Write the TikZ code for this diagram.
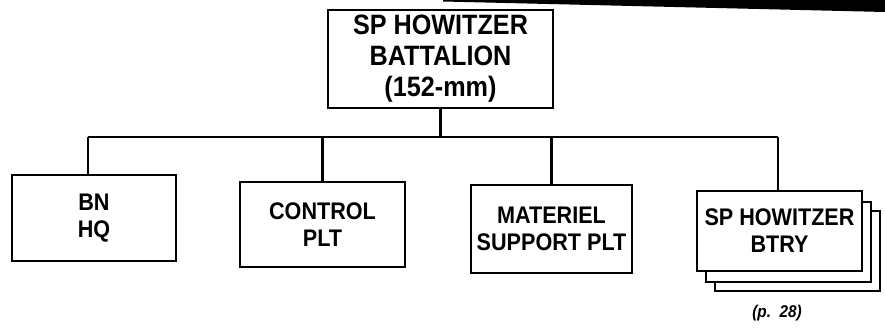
\documentclass[tikz,border=0pt]{standalone}
\usepackage{fontspec}
\setmainfont{Liberation Sans}
\newfontfamily\narrowsans[FakeStretch=0.9]{Liberation Sans}
\begin{document}
\begin{tikzpicture}[x=1pt,y=-1pt,
  unitbox/.style={draw=black, line width=2.4pt, fill=white, align=center, inner sep=0pt,
    font=\narrowsans\fontsize{24}{27}\selectfont\bfseries},
  topbox/.style={unitbox, font=\narrowsans\fontsize{28}{31}\selectfont\bfseries},
  link/.style={draw=black, line width=2.2pt}]
\useasboundingbox (0,0) rectangle (885,332);
% scan bar at top right
\fill[black] (443,0) -- (885,0) -- (885,12) -- (443,1.5) -- cycle;
% top box
\node[topbox, minimum width=225pt, minimum height=98pt] (top) at (440.5,59)
  {SP HOWITZER\\BATTALION\\(152-mm)};
% subordinate boxes
\node[unitbox, minimum width=164pt, minimum height=86pt] (bnhq) at (94,218) {BN\\HQ};
\node[unitbox, minimum width=165pt, minimum height=85pt] (control) at (322.5,224.5) {CONTROL\\PLT};
\node[unitbox, minimum width=161pt, minimum height=88pt] (materiel) at (551.5,229) {MATERIEL\\SUPPORT PLT};
\node[unitbox, minimum width=165pt, minimum height=80pt] (btrythree) at (797.5,251) {};
\node[unitbox, minimum width=165pt, minimum height=80pt] (btrytwo) at (788.5,242) {};
\node[unitbox, minimum width=165pt, minimum height=80pt] (btry) at (779.5,231) {SP HOWITZER\\BTRY};
\node[font=\narrowsans\fontsize{17}{20}\selectfont\bfseries\itshape] (ref) at (777,313) {(p.\ \ 28)};
% connectors
\coordinate (bl) at (88,137);
\coordinate (br) at (778,137);
\draw[link] (bl) -- (br);
\draw[link] (top.south) -- (top.south |- bl);
\draw[link] (bl) -- (bl |- bnhq.north);
\draw[link] (control.north |- bl) -- (control.north);
\draw[link] (materiel.north |- bl) -- (materiel.north);
\draw[link] (br) -- (br |- btry.north);
\end{tikzpicture}
\end{document}
